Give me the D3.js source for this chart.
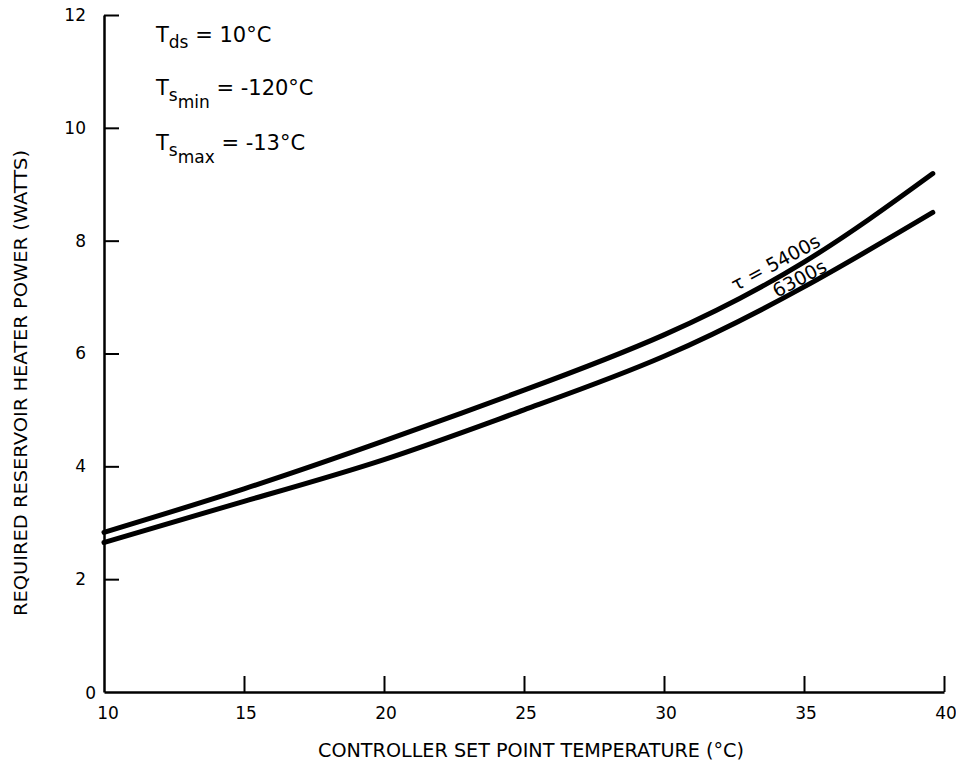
<!DOCTYPE html>
<html>
<head>
<meta charset="utf-8">
<script src="https://cdn.jsdelivr.net/npm/d3@7"></script>
<style>
  body { margin: 0; background: #fff; }
  text { font-family: "DejaVu Sans", sans-serif; fill: #000; }
</style>
</head>
<body>
<div id="chart"></div>
<script>
// set point temperature (deg C) and required heater power (W)
var temps = [10, 15, 20, 25, 30, 35, 39.6];
var power5400 = [2.83, 3.6, 4.45, 5.35, 6.33, 7.62, 9.19];
var power6300 = [2.65, 3.38, 4.12, 5.0, 5.95, 7.18, 8.5];
var xTicks = [10, 15, 20, 25, 30, 35, 40];
var yTicks = [0, 2, 4, 6, 8, 10, 12];

var width = 956, height = 772;

var svg = d3.select("#chart").append("svg")
    .attr("width", width)
    .attr("height", height);

var x = d3.scaleLinear().domain([10, 40]).range([104, 944]);
var y = d3.scaleLinear().domain([0, 12]).range([692, 15]);

// axes: inward ticks, no outer ticks
var yAxis = svg.append("g")
    .attr("transform", "translate(" + x(10) + ",0)")
    .call(d3.axisRight(y).tickValues(yTicks).tickSize(15).tickSizeOuter(0).tickFormat(""));
var xAxis = svg.append("g")
    .attr("transform", "translate(0," + y(0) + ")")
    .call(d3.axisTop(x).tickValues(xTicks).tickSize(16).tickSizeOuter(0).tickFormat(""));

[yAxis, xAxis].forEach(function (g) {
    g.select(".domain").attr("stroke", "#000").attr("stroke-width", 2.5);
    g.selectAll(".tick line").attr("stroke", "#000").attr("stroke-width", 2);
});
// no tick drawn at the corner
yAxis.selectAll(".tick").filter(function (d) { return d === 0; }).remove();
xAxis.selectAll(".tick").filter(function (d) { return d === 10; }).remove();

// tick labels
svg.selectAll(".ylab")
    .data(yTicks)
    .enter().append("text")
    .attr("class", "ylab")
    .attr("x", function (d) { return d === 0 ? 96 : 86; })
    .attr("y", function (d) { return d === 0 ? y(d) + 1 : y(d); })
    .attr("dy", "0.35em")
    .attr("text-anchor", "end")
    .style("font-size", "17px")
    .text(function (d) { return d; });

svg.selectAll(".xlab")
    .data(xTicks)
    .enter().append("text")
    .attr("class", "xlab")
    .attr("x", function (d) { return d === 10 ? x(d) + 4 : x(d) + 2; })
    .attr("y", y(0) + 27)
    .attr("text-anchor", "middle")
    .style("font-size", "17px")
    .text(function (d) { return d; });

// axis titles
svg.append("text")
    .attr("x", 531)
    .attr("y", 757)
    .attr("text-anchor", "middle")
    .attr("textLength", 426)
    .attr("lengthAdjust", "spacingAndGlyphs")
    .style("font-size", "20px")
    .text("CONTROLLER SET POINT TEMPERATURE (°C)");

svg.append("text")
    .attr("transform", "translate(27,383) rotate(-90)")
    .attr("text-anchor", "middle")
    .attr("textLength", 466)
    .attr("lengthAdjust", "spacingAndGlyphs")
    .style("font-size", "17px")
    .text("REQUIRED RESERVOIR HEATER POWER (WATTS)");

// curves
var series = [
    {name: "5400", values: power5400},
    {name: "6300", values: power6300}
];
var line = d3.line()
    .x(function (d, i) { return x(temps[i]); })
    .y(function (d) { return y(d); })
    .curve(d3.curveNatural);

svg.selectAll(".curve")
    .data(series)
    .enter().append("path")
    .attr("class", "curve")
    .attr("d", function (s) { return line(s.values); })
    .attr("fill", "none")
    .attr("stroke", "#000")
    .attr("stroke-width", 5)
    .attr("stroke-linecap", "round");

// curve labels, rotated to follow the curve
function placeOn(s, tx) {
    var yv = d3.scaleLinear().domain(temps).range(s.values);
    var px = x(tx), py = y(yv(tx));
    var ang = Math.atan2(y(yv(tx + 1)) - y(yv(tx - 1)), x(tx + 1) - x(tx - 1)) * 180 / Math.PI;
    return "translate(" + px + "," + py + ") rotate(" + ang + ")";
}
svg.append("text")
    .attr("transform", placeOn(series[0], 34.2))
    .attr("y", -6)
    .attr("text-anchor", "middle")
    .style("font-size", "19px")
    .text("τ = 5400s");
svg.append("text")
    .attr("transform", placeOn(series[1], 35.0))
    .attr("y", -3)
    .attr("text-anchor", "middle")
    .style("font-size", "19px")
    .text("6300s");

// parameter notes
var notes = [
    {sub: "ds", sub2: "", rest: " = 10°C", y: 42},
    {sub: "s", sub2: "min", rest: " = -120°C", y: 95},
    {sub: "s", sub2: "max", rest: " = -13°C", y: 150}
];
notes.forEach(function (n) {
    var t = svg.append("text")
        .attr("x", 156)
        .attr("y", n.y)
        .style("font-size", "21px");
    t.append("tspan").text("T");
    t.append("tspan").attr("dy", 6).style("font-size", "17px").text(n.sub);
    if (n.sub2) {
        t.append("tspan").attr("dy", 7).style("font-size", "17px").text(n.sub2);
        t.append("tspan").attr("dy", -13).text(n.rest);
    } else {
        t.append("tspan").attr("dy", -6).text(n.rest);
    }
});
</script>
</body>
</html>
